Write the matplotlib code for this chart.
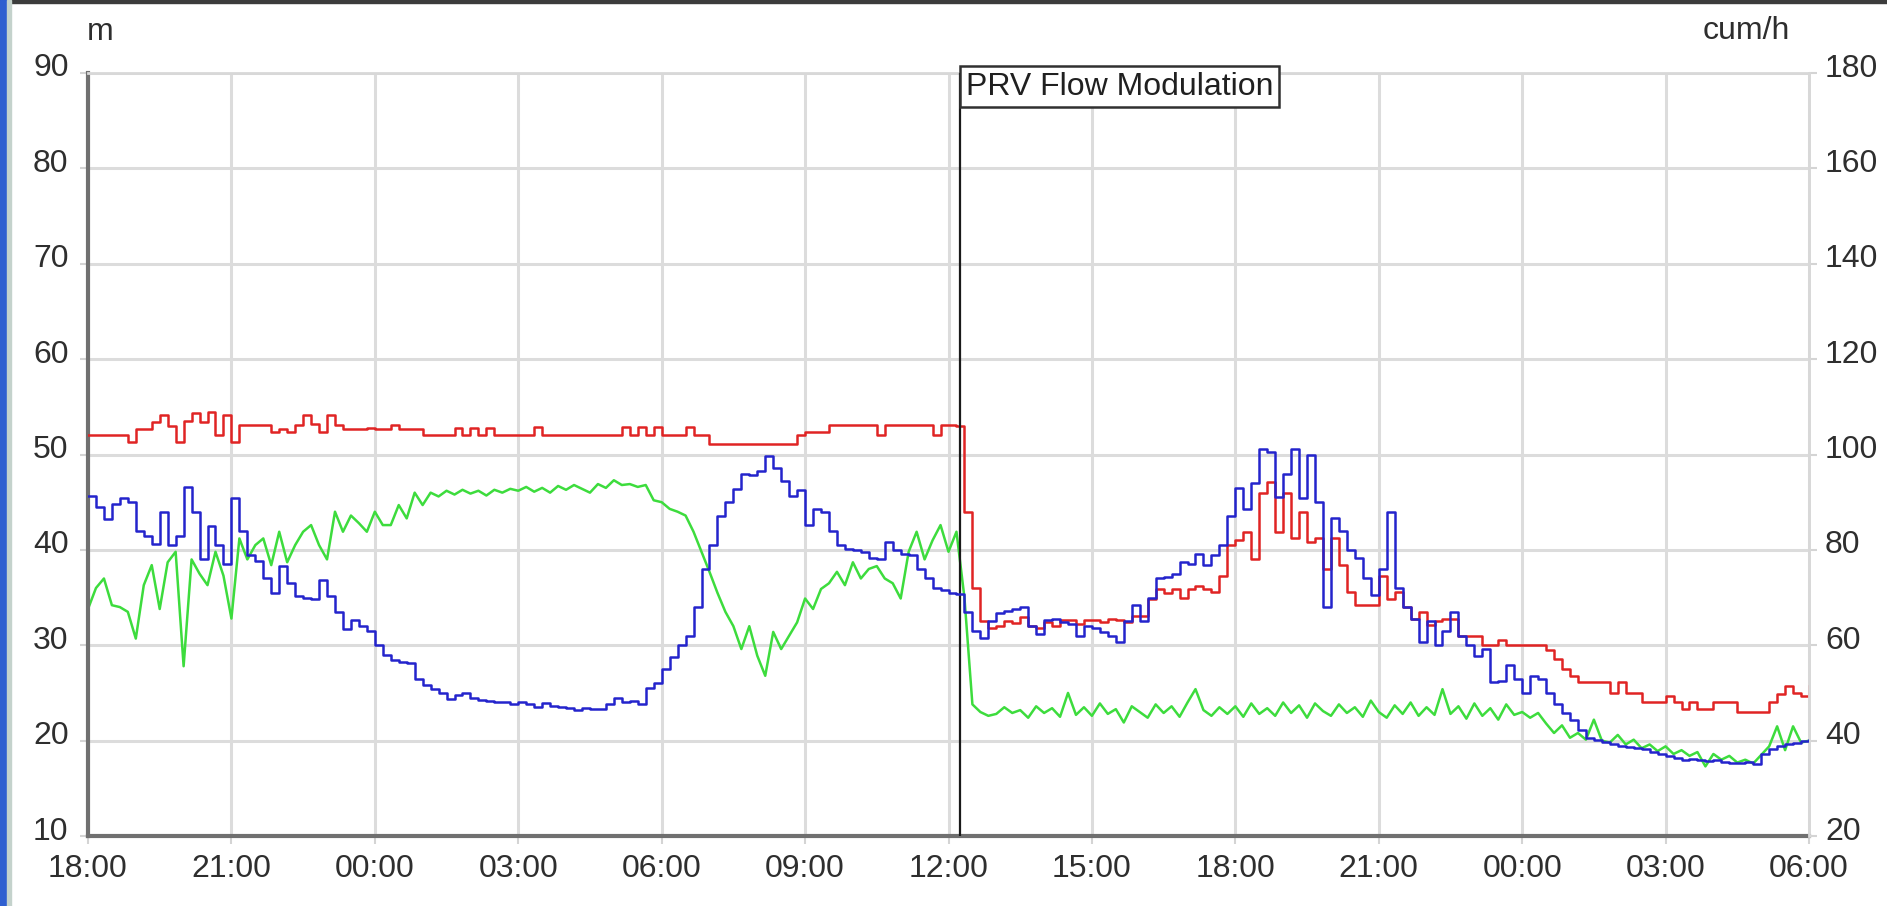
import numpy as np
import pandas as pd
import matplotlib
matplotlib.use('Agg')
import matplotlib.pyplot as plt
import matplotlib.dates as mdates
from matplotlib import font_manager
from matplotlib.transforms import ScaledTranslation, blended_transform_factory
from matplotlib.patches import Rectangle

# 10-minute samples from 18:00 (day 1) to 06:00 (day 3), one line per hour
# red: PRV outlet pressure (m)
outlet_m = [
    52.0, 52.0, 52.0, 52.0, 52.0, 51.3,
    52.7, 52.7, 53.4, 54.1, 53.0, 51.3,
    53.5, 54.3, 53.4, 54.5, 52.0, 54.1,
    51.3, 53.1, 53.1, 53.1, 53.1, 52.4,
    52.7, 52.4, 53.1, 54.1, 53.2, 52.4,
    54.1, 53.1, 52.7, 52.7, 52.7, 52.8,
    52.7, 52.7, 53.1, 52.7, 52.7, 52.7,
    52.0, 52.0, 52.0, 52.0, 52.8, 52.0,
    52.8, 52.0, 52.8, 52.0, 52.0, 52.0,
    52.0, 52.0, 52.9, 52.0, 52.0, 52.0,
    52.0, 52.0, 52.0, 52.0, 52.0, 52.0,
    52.0, 52.9, 52.0, 52.9, 52.0, 52.9,
    52.0, 52.0, 52.0, 52.9, 52.0, 52.0,
    51.1, 51.1, 51.1, 51.1, 51.1, 51.1,
    51.1, 51.1, 51.1, 51.1, 51.1, 52.0,
    52.4, 52.4, 52.4, 53.1, 53.1, 53.1,
    53.1, 53.1, 53.1, 52.0, 53.1, 53.1,
    53.1, 53.1, 53.1, 53.1, 52.0, 53.1,
    53.1, 53.0, 44.0, 36.0, 32.5, 31.8,
    32.0, 32.5, 32.3, 33.0, 32.0, 31.8,
    32.4, 32.0, 32.6, 32.6, 32.2, 32.6,
    32.6, 32.4, 32.8, 32.6, 32.4, 33.1,
    33.1, 34.9, 35.9, 35.5, 35.9, 35.0,
    35.9, 36.2, 35.9, 35.6, 37.3, 40.5,
    41.0, 41.9, 39.0, 46.0, 47.1, 41.9,
    46.0, 41.2, 44.0, 40.8, 41.2, 38.0,
    41.2, 38.4, 35.6, 34.2, 34.2, 34.2,
    37.3, 34.9, 35.6, 34.0, 32.8, 33.5,
    32.1, 32.5, 32.8, 32.8, 31.0, 31.0,
    31.0, 30.0, 30.0, 30.5, 30.0, 30.0,
    30.0, 30.0, 30.0, 29.5, 28.6, 27.5,
    26.8, 26.1, 26.1, 26.1, 26.1, 25.0,
    26.1, 25.0, 25.0, 24.0, 24.0, 24.0,
    24.7, 24.0, 23.3, 24.0, 23.3, 23.3,
    24.0, 24.0, 24.0, 23.0, 23.0, 23.0,
    23.0, 24.0, 24.9, 25.7, 25.0, 24.7,
    25.7,
]

# blue: inlet flow (cum/h, right axis)
flow_cumh = [
    91.4, 89.0, 86.4, 89.6, 90.8, 90.0,
    84.0, 83.0, 81.2, 88.0, 81.0, 83.0,
    93.2, 88.0, 78.0, 85.0, 81.0, 77.0,
    90.8, 84.0, 79.0, 77.6, 74.0, 71.0,
    76.6, 73.0, 70.4, 70.0, 69.8, 73.6,
    70.4, 67.0, 63.4, 65.2, 64.0, 63.0,
    60.0, 58.0, 57.0, 56.4, 56.2, 53.0,
    51.6, 50.8, 50.0, 48.8, 49.6, 50.0,
    49.0, 48.6, 48.4, 48.0, 48.2, 47.6,
    48.0, 47.6, 47.0, 47.8, 47.2, 47.0,
    46.8, 46.4, 46.8, 46.6, 46.6, 47.6,
    49.0, 48.0, 48.4, 47.6, 51.0, 52.0,
    55.0, 57.6, 60.0, 62.0, 68.0, 76.0,
    81.0, 87.0, 90.0, 92.8, 96.0, 95.6,
    96.6, 99.6, 97.2, 94.4, 91.4, 92.6,
    85.2, 88.6, 88.0, 84.0, 81.0, 80.2,
    80.0, 79.6, 78.4, 78.0, 81.6, 80.0,
    79.2, 79.0, 76.0, 74.0, 72.0, 71.6,
    71.0, 70.8, 67.0, 63.0, 61.6, 65.0,
    66.8, 67.2, 67.6, 68.0, 64.0, 62.4,
    65.2, 65.4, 64.8, 64.4, 62.0, 64.0,
    63.6, 62.8, 62.0, 60.6, 65.0, 68.4,
    65.0, 70.0, 74.0, 74.4, 75.0, 77.4,
    77.0, 79.2, 76.8, 79.0, 81.0, 87.2,
    93.0, 88.6, 94.0, 101.2, 100.6, 91.0,
    96.0, 101.2, 90.8, 99.8, 90.0, 68.0,
    86.6, 84.0, 80.0, 78.4, 74.0, 70.6,
    76.0, 88.0, 72.0, 68.0, 65.6, 60.6,
    65.0, 60.0, 63.0, 67.0, 62.0, 60.0,
    57.8, 59.2, 52.2, 52.4, 55.8, 53.0,
    50.0, 53.6, 53.0, 50.0, 47.6, 45.8,
    44.4, 42.2, 40.6, 40.2, 39.8, 39.2,
    38.8, 38.6, 38.4, 38.2, 37.6, 37.2,
    36.8, 36.4, 36.0, 36.2, 36.0, 35.8,
    36.0, 35.6, 35.4, 35.4, 35.6, 35.2,
    37.2, 38.2, 38.8, 39.2, 39.6, 40.0,
    40.2,
]

# green: critical point pressure (m)
critical_m = [
    33.8, 36.0, 37.0, 34.2, 34.0, 33.5,
    30.7, 36.3, 38.4, 33.8, 38.7, 39.8,
    27.8, 39.0, 37.5, 36.3, 39.8, 37.3,
    32.8, 41.2, 39.0, 40.5, 41.2, 38.4,
    41.9, 38.7, 40.5, 41.9, 42.6, 40.5,
    39.0, 44.0, 41.9, 43.6, 42.8, 41.9,
    44.0, 42.6, 42.6, 44.7, 43.3, 46.0,
    44.7, 46.0, 45.6, 46.2, 45.8, 46.3,
    45.9, 46.2, 45.7, 46.3, 46.0, 46.4,
    46.2, 46.6, 46.1, 46.5, 46.0, 46.7,
    46.3, 46.8, 46.4, 46.0, 46.9, 46.5,
    47.3, 46.8, 46.9, 46.6, 46.8, 45.2,
    45.0, 44.3, 44.0, 43.6, 41.9, 39.8,
    37.7, 35.5, 33.5, 32.0, 29.6, 32.0,
    28.9, 26.8, 31.4, 29.6, 31.0, 32.4,
    34.9, 33.8, 35.9, 36.5, 37.7, 36.3,
    38.7, 37.0, 38.0, 38.3, 37.0, 36.5,
    34.9, 39.8, 41.9, 39.0, 41.0, 42.6,
    39.8, 41.9, 35.0, 23.8, 23.0, 22.6,
    22.8, 23.5, 22.9, 23.2, 22.4, 23.6,
    22.9, 23.4, 22.5, 25.0, 22.7, 23.5,
    22.6, 23.9, 22.8, 23.3, 21.9, 23.6,
    23.0, 22.4, 23.8, 22.9, 23.6, 22.5,
    24.0, 25.4, 23.2, 22.6, 23.5, 22.8,
    23.6, 22.5, 23.9, 22.8, 23.4, 22.6,
    24.0, 22.9, 23.7, 22.4, 23.9, 23.1,
    22.6, 23.8, 22.9, 23.5, 22.5, 24.2,
    23.0, 22.4, 23.7, 22.8, 24.0, 22.6,
    23.5, 22.7, 25.4, 22.8, 23.6, 22.3,
    23.9, 22.6, 23.4, 22.2, 23.8, 22.7,
    23.0, 22.4, 22.9, 21.8, 20.8, 21.6,
    20.3, 20.8, 20.1, 22.2, 20.0, 19.8,
    20.6, 19.6, 20.1, 19.2, 19.6, 18.9,
    19.4, 18.6, 19.0, 18.4, 18.8, 17.3,
    18.6, 18.0, 18.4, 17.7, 18.0, 17.6,
    18.5, 19.4, 21.5, 19.0, 21.5, 19.8,
    20.0,
]

start = pd.Timestamp('2009-03-02 18:00')
times = pd.date_range(start, periods=len(outlet_m), freq='10min')
end = start + pd.Timedelta(hours=36)
modulation_start = start + pd.Timedelta(hours=18, minutes=14)

# narrow Arial-like face if present, otherwise plain Liberation Sans a bit smaller
names = {f.name for f in font_manager.fontManager.ttflist}
if 'Liberation Sans Narrow' in names:
    family, fs = 'Liberation Sans Narrow', 28
else:
    family, fs = 'Liberation Sans', 23
plt.rcParams['font.family'] = [family, 'DejaVu Sans']

W, H = 1887, 906
fig = plt.figure(figsize=(W / 100, H / 100), dpi=100)
fig.patch.set_facecolor('white')

# window chrome
fig.patches.append(Rectangle((0, 1 - 3 / H), 1, 3 / H, transform=fig.transFigure, color='#3c3c3c', zorder=0))
fig.patches.append(Rectangle((0, 0), 7 / W, 1, transform=fig.transFigure, color='#2f5fd0', zorder=0))
fig.patches.append(Rectangle((7 / W, 0), 4 / W, 1, transform=fig.transFigure, color='#c4d2cc', zorder=0))

x0, x1, y_top, y_bot = 88, 1809, 73, 836
ax = fig.add_axes([x0 / W, 1 - y_bot / H, (x1 - x0) / W, (y_bot - y_top) / H])
ax2 = ax.twinx()

ax.plot(times, critical_m, color='#3ddc3d', lw=1.8, zorder=2)
ax.plot(times, outlet_m, color='#e02424', lw=1.8, drawstyle='steps-post', zorder=3)
ax2.plot(times, flow_cumh, color='#2424cc', lw=1.8, drawstyle='steps-post', zorder=3)

ax.axvline(modulation_start, color='#1a1a1a', lw=1.6, zorder=5)

ax.set_xlim(start, end)
ax.set_ylim(10, 90)
ax.set_yticks(range(10, 91, 10))
ax2.set_ylim(20, 180)
ax2.set_yticks(range(20, 181, 20))
ax.xaxis.set_major_locator(mdates.HourLocator(byhour=range(0, 24, 3)))
ax.xaxis.set_major_formatter(mdates.DateFormatter('%H:%M'))

ax.grid(True, color='#dcdcdc', lw=2.2, zorder=0)
ax.set_axisbelow(True)

tick_kw = dict(length=6, width=1.5, color='#d4d4d4', labelsize=fs, labelcolor='#2e2e2e')
ax.tick_params(axis='y', pad=8, **tick_kw)
ax.tick_params(axis='x', pad=7, **tick_kw)
ax2.tick_params(axis='y', pad=5.5, **tick_kw)

for side in ['left', 'bottom']:
    ax.spines[side].set_color('#707070')
    ax.spines[side].set_linewidth(3)
for side in ['top', 'right']:
    ax.spines[side].set_color('#d8d8d8')
    ax.spines[side].set_linewidth(2)
for side in ['left', 'bottom', 'top']:
    ax2.spines[side].set_visible(False)
ax2.spines['right'].set_color('#d8d8d8')
ax2.spines['right'].set_linewidth(2)

# y tick labels sit a little above their grid lines
lift = ScaledTranslation(0, 0.08, fig.dpi_scale_trans)
for tick in ax.yaxis.get_major_ticks() + ax2.yaxis.get_major_ticks():
    tick.label1.set_transform(tick.label1.get_transform() + lift)
    tick.label2.set_transform(tick.label2.get_transform() + lift)

# annotation on the modulation line
trans = blended_transform_factory(ax.transData, ax.transAxes) + ScaledTranslation(0.06, 0, fig.dpi_scale_trans)
ax.text(modulation_start, 0.982, 'PRV Flow Modulation', transform=trans, ha='left', va='center',
        fontsize=fs, color='#202020', clip_on=False, zorder=10,
        bbox=dict(boxstyle='square,pad=0.18', fc='white', ec='#303030', lw=1.8))

# axis units
fig.text(100 / W, 1 - 32 / H, 'm', ha='center', va='center', fontsize=fs, color='#2e2e2e')
fig.text(1790 / W, 1 - 31 / H, 'cum/h', ha='right', va='center', fontsize=fs, color='#2e2e2e')

fig.savefig('out.png', dpi=100)
